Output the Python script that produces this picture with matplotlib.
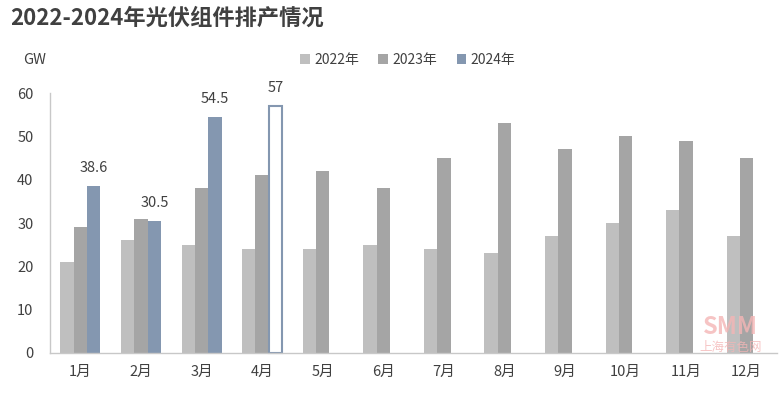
import matplotlib
matplotlib.use("Agg")
import matplotlib.pyplot as plt
import numpy as np

plt.rcParams['font.family'] = ['Noto Sans CJK SC', 'DejaVu Sans']

months = ['1月', '2月', '3月', '4月', '5月', '6月', '7月', '8月', '9月', '10月', '11月', '12月']
y2022 = [21, 26, 25, 24, 24, 25, 24, 23, 27, 30, 33, 27]
y2023 = [29, 31, 38, 41, 42, 38, 45, 53, 47, 50, 49, 45]
y2024 = [38.6, 30.5, 54.5]
y2024_est = [57]  # April (hollow)
labels_2024 = ['38.6', '30.5', '54.5', '57']

c22, c23, c24 = '#bfbfbf', '#a5a5a5', '#8497b0'
text_c = '#404040'

fig = plt.figure(figsize=(7.84, 3.93), dpi=100)
ax = fig.add_axes([0.064, 0.102, 0.927, 0.661])

x = np.arange(len(months))
w = 0.22
ax.bar(x - w, y2022, w, color=c22, label='2022年')
ax.bar(x, y2023, w, color=c23, label='2023年')
x24 = x[:len(y2024)] + w
ax.bar(x24, y2024, w, color=c24, label='2024年')
xe = x[len(y2024):len(y2024) + len(y2024_est)] + w
ax.bar(xe, y2024_est, w * 0.92, facecolor='white', edgecolor=c24, linewidth=1.5, clip_on=False)

allx = list(x24) + list(xe)
ally = list(y2024) + list(y2024_est)
for xi, yi, lb in zip(allx, ally, labels_2024):
    ax.annotate(lb, (xi, yi), xytext=(0, 8), textcoords='offset points',
                ha='center', va='bottom', fontsize=10.5, color=text_c, annotation_clip=False)

ax.set_xlim(-0.5, 11.5)
ax.set_ylim(0, 60)
ax.set_yticks(range(0, 61, 10))
ax.set_xticks(x)
ax.set_xticklabels(months)
ax.tick_params(axis='both', length=0, labelsize=10.5, colors=text_c)
ax.tick_params(axis='x', pad=9)
ax.tick_params(axis='y', pad=12)
for s in ['top', 'right']:
    ax.spines[s].set_visible(False)
for s in ['left', 'bottom']:
    ax.spines[s].set_color('#c8c8c8')
    ax.spines[s].set_linewidth(1)

leg = fig.legend(loc='center', bbox_to_anchor=(0.52, 0.848), ncol=3, frameon=False,
                 fontsize=10, handlelength=0.7, handleheight=0.7, handletextpad=0.3,
                 columnspacing=1.4)
for t in leg.get_texts():
    t.set_color(text_c)

fig.text(0.013, 0.953, '2022-2024年光伏组件排产情况', fontsize=16, fontweight='bold',
         color='#404040', va='center', ha='left')
fig.text(0.03, 0.848, 'GW', fontsize=10.5, color=text_c, va='center', ha='left')

# watermark
fig.text(0.932, 0.167, 'SMM', fontsize=17, fontweight='bold', fontstyle='italic',
         color='#f4b6b6', alpha=0.8, ha='center', va='center')
fig.text(0.932, 0.115, '上海有色网', fontsize=9, color='#f4b6b6', alpha=0.8,
         ha='center', va='center')

fig.savefig('out.png', dpi=100)
